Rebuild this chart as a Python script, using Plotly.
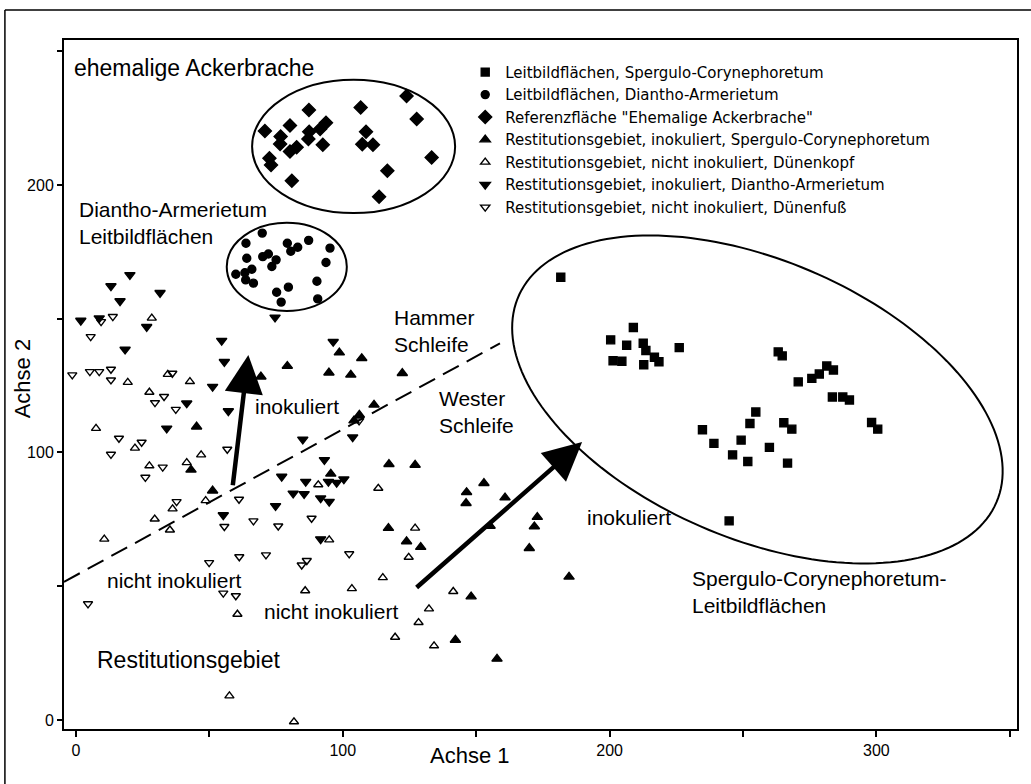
import numpy as np
import plotly.graph_objects as go

# ---------------- data ----------------
# Leitbildflächen, Spergulo-Corynephoretum (filled squares)
sc_x = [181.7, 208.9, 200.4, 206.4, 212.6, 213.6, 216.8, 218.5, 201.3, 204.6, 212.8, 226.1,
        263.2, 264.7, 281.4, 283.9, 278.6, 275.8, 270.7, 283.5, 287.4, 289.9, 298.2, 300.5,
        254.8, 252.6, 265.3, 268.3, 234.8, 239.1, 249.3, 259.9, 246.1, 251.8, 266.7, 244.8]
sc_y = [165.5, 146.7, 142.1, 140.1, 140.8, 138.1, 135.6, 133.9, 134.3, 134.1, 132.8, 139.2,
        137.6, 136.1, 132.3, 130.8, 129.3, 127.7, 126.4, 120.7, 120.7, 119.6, 111.2, 108.7,
        115.1, 110.8, 111.1, 108.7, 108.5, 103.4, 104.6, 101.9, 99.1, 96.6, 96.0, 74.4]

# Leitbildflächen, Diantho-Armerietum (filled circles)
da_x = [69.8, 63.7, 79.2, 80.5, 83.1, 87.2, 95.2, 93.7, 64.0, 70.0, 72.1, 75.0,
        73.4, 65.9, 59.9, 63.3, 63.6, 66.5, 75.2, 79.6, 76.9, 90.3, 90.6]
da_y = [182.0, 178.2, 178.2, 175.2, 176.7, 179.3, 176.4, 171.0, 172.6, 173.2, 174.2, 172.0,
        169.5, 168.5, 166.6, 167.2, 164.5, 163.3, 159.9, 161.8, 156.2, 164.0, 157.4]

# Referenzfläche "Ehemalige Ackerbrache" (filled diamonds)
ab_x = [70.8, 76.7, 76.5, 80.2, 87.3, 87.4, 87.1, 91.5, 93.7, 82.7, 80.2, 92.5,
        72.5, 73.1, 80.9, 106.7, 108.7, 107.3, 111.3, 123.9, 127.7, 133.3, 116.7, 113.6]
ab_y = [220.2, 218.1, 215.3, 222.2, 228.0, 219.9, 217.2, 220.9, 223.3, 214.1, 212.5, 215.0,
        210.0, 207.5, 201.6, 229.0, 219.9, 215.2, 215.0, 233.3, 224.7, 210.3, 205.3, 195.6]

# Restitutionsgebiet, inokuliert, Spergulo-Corynephoretum (filled up-triangles)
ri_sc_x = [98.7, 107.1, 94.8, 103.0, 122.3, 111.7, 106.2, 104.2, 95.5, 117.3, 127.1, 146.4,
           152.9, 146.2, 160.8, 117.1, 123.9, 129.2, 155.2, 172.9, 171.8, 169.9, 148.1, 142.2,
           79.2, 69.3, 45.2, 43.1, 51.2, 157.8, 184.8]
ri_sc_y = [137.3, 135.2, 129.8, 129.0, 129.6, 117.8, 114.0, 111.9, 92.0, 95.6, 95.3, 85.1,
           88.5, 81.0, 83.1, 71.7, 66.7, 64.6, 72.5, 75.8, 72.3, 64.2, 46.1, 29.9,
           132.3, 128.3, 109.6, 93.5, 85.7, 22.8, 53.5]

# Restitutionsgebiet, nicht inokuliert, Dünenkopf (open up-triangles)
rn_kopf_x = [28.4, 19.4, 7.5, 27.5, 34.4, 42.7, 22.1, 27.5, 41.5, 46.9, 48.6, 36.2, 29.5, 35.2,
             10.6, 90.8, 94.9, 124.7, 115.0, 85.9, 103.4, 60.5, 132.3, 128.4, 119.6, 134.2,
             57.5, 81.7, 113.3, 127.1, 141.4]
rn_kopf_y = [150.2, 126.2, 109.0, 122.5, 129.2, 126.5, 101.6, 95.0, 96.2, 99.1, 82.0, 78.9, 75.1, 71.0,
             67.6, 87.9, 67.3, 60.8, 53.2, 48.3, 49.1, 39.5, 41.5, 36.4, 30.9, 27.7,
             9.0, -0.7, 86.6, 71.7, 48.0]

# Restitutionsgebiet, inokuliert, Diantho-Armerietum (filled down-triangles)
ri_da_x = [20.2, 13.1, 16.5, 31.5, 1.8, 8.7, 26.5, 74.6, 54.6, 96.4, 18.4, 55.6, 51.2, 41.5,
           57.1, 34.0, 85.0, 103.7, 93.1, 77.1, 86.1, 94.6, 97.7, 100.4, 81.4, 85.5, 91.7, 94.9,
           55.2, 74.8, 91.7]
ri_da_y = [166.4, 162.2, 156.6, 159.7, 149.3, 150.2, 147.0, 150.5, 141.8, 141.4, 138.5, 133.9, 124.6, 118.4,
           115.5, 109.0, 104.9, 105.7, 97.2, 91.0, 89.1, 89.1, 88.7, 90.0, 84.7, 84.5, 82.9, 81.6,
           76.6, 80.0, 67.6]

# Restitutionsgebiet, nicht inokuliert, Dünenfuß (open down-triangles)
rn_fuss_x = [9.4, 13.8, 5.5, -1.4, 5.2, 8.7, 13.1, 13.1, 36.1, 29.6, 33.0, 37.4, 16.1, 24.6, 13.1,
             32.5, 26.0, 56.7, 37.7, 61.1, 55.6, 66.5, 75.8, 88.3, 49.9, 61.2, 71.2, 84.6, 86.5,
             102.4, 55.2, 59.9, 106.1, 4.5]
rn_fuss_y = [148.9, 150.8, 143.3, 129.0, 130.2, 130.2, 131.1, 127.1, 129.6, 118.6, 120.9, 116.1, 105.3, 103.8, 99.3,
             94.5, 90.7, 101.2, 81.6, 82.5, 72.3, 74.4, 72.5, 75.4, 58.8, 61.0, 61.7, 57.9, 59.6,
             62.1, 47.4, 46.4, 111.8, 43.4]

series_names = [
    "Leitbildflächen, Spergulo-Corynephoretum",
    "Leitbildflächen, Diantho-Armerietum",
    'Referenzfläche "Ehemalige Ackerbrache"',
    "Restitutionsgebiet, inokuliert, Spergulo-Corynephoretum",
    "Restitutionsgebiet, nicht inokuliert, Dünenkopf",
    "Restitutionsgebiet, inokuliert, Diantho-Armerietum",
    "Restitutionsgebiet, nicht inokuliert, Dünenfuß",
]

# boundary between Hammer Schleife and Wester Schleife
divide_x = [-4.5, 158.9]
divide_y = [51.6, 140.8]

# arrows: (tail x, tail y, head x, head y)
arrow_inok_up = [58.7, 87.2, 64.6, 136.4]
arrow_inok_right = [127.1, 49.0, 189.7, 103.9]

# group ellipses (data units)
ell_ackerbrache = [66.0, 189.5, 142.1, 239.3]   # x0, y0, x1, y1
ell_diantho = [56.5, 152.9, 101.5, 185.9]
ell_spergulo = [255.4, 119.8, 97.5, 52.0, -23.2]  # cx, cy, a, b, angle(deg)

x_ticks = [0, 50, 100, 150, 200, 250, 300, 350]
x_ticklabels = ["0", "", "100", "", "200", "", "300", ""]
y_ticks = [0, 50, 100, 150, 200, 250]
y_ticklabels = ["0", "", "100", "", "200", ""]

# in-plot labels: text, x, y, font size
labels = [
    ("ehemalige Ackerbrache", -1.5, 243.7, 23),
    ("Diantho-Armerietum<br>Leitbildflächen", 0.4, 185.6, 21),
    ("Hammer<br>Schleife", 118.4, 145.4, 21),
    ("Wester<br>Schleife", 135.3, 115.0, 21),
    ("inokuliert", 66.3, 117.0, 21),
    ("inokuliert", 190.8, 75.5, 21),
    ("nicht inokuliert", 10.9, 52.3, 21),
    ("nicht inokuliert", 69.7, 40.4, 21),
    ("Restitutionsgebiet", 7.1, 22.4, 23),
    ("Spergulo-Corynephoretum-<br>Leitbildflächen", 230.1, 47.9, 21),
]

# ---------------- figure ----------------
FONT = "Liberation Sans, Arial, sans-serif"
LEGEND_FONT = "DejaVu Sans, Liberation Sans, sans-serif"
fig = go.Figure()

marker_defs = [
    (sc_x, sc_y, "square", 8),
    (da_x, da_y, "circle", 8),
    (ab_x, ab_y, "diamond", 10),
    (ri_sc_x, ri_sc_y, "triangle-up", 9),
    (rn_kopf_x, rn_kopf_y, "triangle-up-open", 8),
    (ri_da_x, ri_da_y, "triangle-down", 9),
    (rn_fuss_x, rn_fuss_y, "triangle-down-open", 8),
]
for (xs, ys, sym, sz), name in zip(marker_defs, series_names):
    fig.add_trace(go.Scatter(
        x=xs, y=ys, mode="markers", name=name,
        marker=dict(symbol=sym, size=sz, color="black", line=dict(color="black", width=1.4)),
    ))

fig.add_trace(go.Scatter(
    x=divide_x, y=divide_y, mode="lines", showlegend=False, hoverinfo="skip",
    line=dict(color="black", width=2, dash="18px,9px"),
))

# ellipses
shapes = []
for e in (ell_ackerbrache, ell_diantho):
    shapes.append(dict(type="circle", xref="x", yref="y", x0=e[0], y0=e[1], x1=e[2], y1=e[3],
                       line=dict(color="black", width=2)))
cx, cy, ea, eb, ang = ell_spergulo
t = np.linspace(0, 2 * np.pi, 180)
th = np.deg2rad(ang)
ex = cx + ea * np.cos(t) * np.cos(th) - eb * np.sin(t) * np.sin(th)
ey = cy + ea * np.cos(t) * np.sin(th) + eb * np.sin(t) * np.cos(th)
path = "M " + " L ".join(f"{a:.3f},{b:.3f}" for a, b in zip(ex, ey)) + " Z"
shapes.append(dict(type="path", xref="x", yref="y", path=path, line=dict(color="black", width=2)))

# outer scan frame
shapes.append(dict(type="line", xref="paper", yref="paper", x0=-0.062, x1=-0.062, y0=-0.08, y1=1.0435,
                   line=dict(color="black", width=1.5)))
shapes.append(dict(type="line", xref="paper", yref="paper", x0=-0.062, x1=1.02, y0=1.0435, y1=1.0435,
                   line=dict(color="black", width=1.5)))

annotations = []
for txt, x, y, sz in labels:
    annotations.append(dict(text=txt, x=x, y=y, xref="x", yref="y", xanchor="left", yanchor="middle",
                            align="left", showarrow=False, font=dict(family=FONT, size=sz, color="black")))
for a in (arrow_inok_up, arrow_inok_right):
    annotations.append(dict(x=a[2], y=a[3], ax=a[0], ay=a[1], xref="x", yref="y", axref="x", ayref="y",
                            text="", showarrow=True, arrowhead=2, arrowsize=1.7, arrowwidth=4.5,
                            arrowcolor="black"))
annotations.append(dict(text="Achse 1", x=0.426, y=-0.038, xref="paper", yref="paper", showarrow=False,
                        xanchor="center", yanchor="middle", font=dict(family=FONT, size=22, color="black")))
annotations.append(dict(text="Achse 2", x=-0.044, y=0.509, xref="paper", yref="paper", showarrow=False,
                        textangle=-90, xanchor="center", yanchor="middle",
                        font=dict(family=FONT, size=22, color="black")))

fig.update_layout(
    width=1031, height=784,
    margin=dict(l=64, r=14, t=40, b=55),
    paper_bgcolor="white", plot_bgcolor="white",
    font=dict(family=FONT, color="black"),
    shapes=shapes, annotations=annotations,
    showlegend=True,
    legend=dict(x=0.421, y=0.977, xanchor="left", yanchor="top", bgcolor="rgba(0,0,0,0)",
                font=dict(family=LEGEND_FONT, size=15, color="black"), itemwidth=30, tracegroupgap=0),
    xaxis=dict(range=[-4.5, 352.7], showgrid=False, zeroline=False, showline=True, mirror=True,
               linecolor="black", linewidth=2, ticks="outside", ticklen=6, tickwidth=1.5,
               tickcolor="black", tickvals=x_ticks, ticktext=x_ticklabels,
               tickfont=dict(family=FONT, size=16, color="black")),
    yaxis=dict(range=[-3.4, 254.2], showgrid=False, zeroline=False, showline=True, mirror=True,
               linecolor="black", linewidth=2, ticks="outside", ticklen=5, tickwidth=1.5,
               tickcolor="black", tickvals=y_ticks, ticktext=y_ticklabels,
               tickfont=dict(family=FONT, size=16, color="black")),
)

fig.write_html("out.html")
